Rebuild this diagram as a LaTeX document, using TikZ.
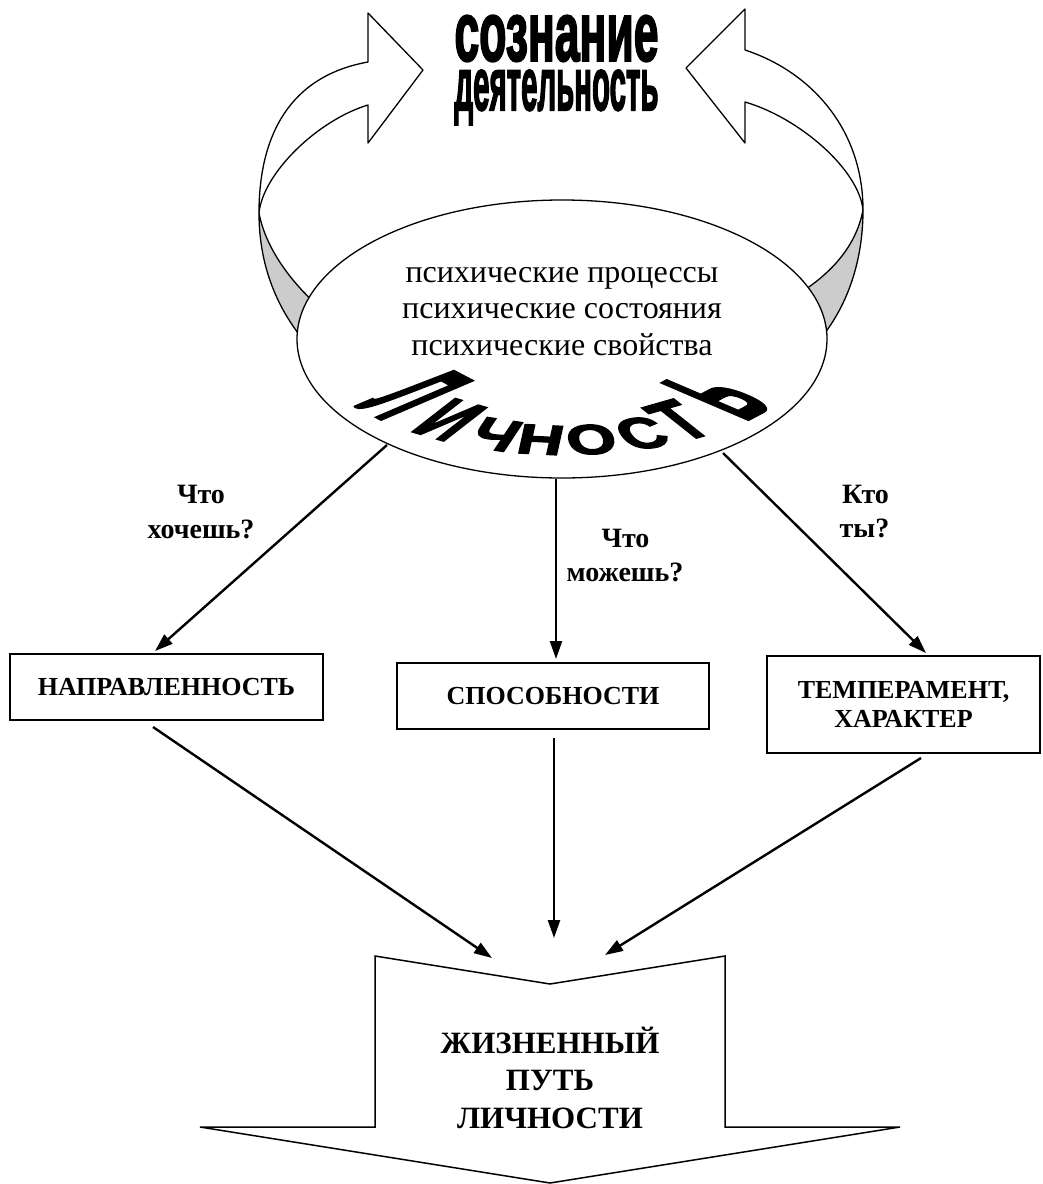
\documentclass[tikz,border=0pt]{standalone}
\usepackage{fontspec}
\setmainfont{Liberation Serif}
\newfontfamily\wafont{Liberation Sans}[BoldFeatures={FakeBold=3}]
\usetikzlibrary{arrows.meta,shapes.geometric}
\begin{document}
\begin{tikzpicture}[x=1pt,y=-1pt,
  conn/.style={line width=2.4pt,-{Triangle[length=18pt,width=12pt]}},
  bandline/.style={line width=1.3pt,line join=round},
  boxst/.style={draw,line width=1.8pt,rectangle,inner sep=0pt,align=center,font=\fontsize{26}{29}\selectfont\bfseries},
  lbl/.style={inner sep=0pt,anchor=base,font=\fontsize{28}{34}\selectfont\bfseries},
  psyline/.style={inner sep=0pt,anchor=base,font=\fontsize{32}{36}\selectfont},
  lifeline/.style={inner sep=0pt,anchor=base,font=\fontsize{31}{37}\selectfont\bfseries},
  lich/.style={inner sep=0pt,anchor=base,transform shape,font=\wafont\bfseries\fontsize{88}{88}\selectfont},
]
\useasboundingbox (0,0) rectangle (1043,1184);
\fill[white] (0,0) rectangle (1043,1184);

% ---------- left curved arrow ----------
\coordinate (LA) at (368,62);
\coordinate (LB) at (368,105);
\coordinate (LT) at (259,213);
\draw[bandline,fill=white] (LT) .. controls (259,135) and (290,76) .. (LA)
  -- (368,13) -- (423,70) -- (368,143) -- (LB)
  .. controls (318,120) and (263,173) .. (LT) -- cycle;
\draw[bandline,fill=black!20] (LT) .. controls (265,245) and (287,278) .. (318,306)
  -- (312,350) .. controls (280,315) and (259,270) .. (LT) -- cycle;

% ---------- right curved arrow ----------
\coordinate (RA) at (745,50);
\coordinate (RB) at (745,102);
\coordinate (RT) at (863,210);
\draw[bandline,fill=white] (RT) .. controls (863,130) and (812,72) .. (RA)
  -- (745,9) -- (686,68) -- (745,143) -- (RB)
  .. controls (800,118) and (859,170) .. (RT) -- cycle;
\draw[bandline,fill=black!20] (RT) .. controls (857,242) and (836,270) .. (800,293)
  -- (815,345) .. controls (845,312) and (863,265) .. (RT) -- cycle;

% ---------- title ----------
\node[inner sep=0pt] (soz) at (556.5,38.5) {\resizebox{204pt}{45pt}{\wafont\bfseries сознание}};
\node[inner sep=0pt,anchor=base] (deyat) at (556.5,110) {\resizebox{204pt}{40pt}{\wafont\bfseries деятельность}};

% ---------- ellipse ----------
\node[draw,ellipse,fill=white,line width=1.3pt,minimum width=530pt,minimum height=278pt,inner sep=0pt] (psy) at (562,339) {};
\node[psyline] (p1) at (562,282) {психические процессы};
\node[psyline] (p2) at (562,318.5) {психические состояния};
\node[psyline] (p3) at (562,355) {психические свойства};

\begin{scope}[shift={(565,330)},yscale=0.476]
  \foreach \ch/\ang/\ys [count=\i] in {Л/-48/2.0, И/-31.5/1.35, Ч/-17.5/1.05, Н/-6/1, О/6.5/1, С/19.5/1.05, Т/31/1.35, Ь/48/1.9}{
    \node[lich,rotate=\ang,xscale=0.72,yscale=\ys] (lich\i) at ({262*sin(\ang)},{262*cos(\ang)}) {\ch};
  }
\end{scope}

% ---------- boxes ----------
\node[boxst,minimum width=313pt,minimum height=66pt] (napr) at (166.5,687) {НАПРАВЛЕННОСТЬ};
\node[boxst,minimum width=312pt,minimum height=66pt] (spos) at (553,696) {СПОСОБНОСТИ};
\node[boxst,minimum width=273pt,minimum height=97pt] (temp) at (903.5,704.5) {ТЕМПЕРАМЕНТ,\\ХАРАКТЕР};

% ---------- connectors ----------
\coordinate (s1) at (387,445);
\coordinate (e1) at (155,651);
\coordinate (s2) at (556,479);
\coordinate (e2) at (556,659);
\coordinate (s3) at (723,453);
\coordinate (e3) at (926,653);
\draw[conn] (s1) -- (e1);
\draw[conn] (s2) -- (e2);
\draw[conn] (s3) -- (e3);

\coordinate (b1) at (153,727);
\coordinate (c1) at (492,958);
\coordinate (b2) at (554,738);
\coordinate (c2) at (554,938);
\coordinate (b3) at (921,758);
\coordinate (c3) at (605,955);
\draw[conn] (b1) -- (c1);
\draw[conn] (b2) -- (c2);
\draw[conn] (b3) -- (c3);

% ---------- labels ----------
\node[lbl] (q1a) at (201,503) {Что};
\node[lbl] (q1b) at (201,538) {хочешь?};
\node[lbl] (q2a) at (625.5,547) {Что};
\node[lbl] (q2b) at (625,581) {можешь?};
\node[lbl] (q3a) at (865.5,503) {Кто};
\node[lbl] (q3b) at (864.5,537) {ты?};

% ---------- big down arrow ----------
\draw[line width=1.5pt,fill=white] (375,956) -- (550,984) -- (725,956) -- (725,1127)
  -- (900,1127) -- (550,1183) -- (200,1127) -- (375,1127) -- cycle;
\node[lifeline] (l1) at (550,1053) {ЖИЗНЕННЫЙ};
\node[lifeline] (l2) at (550,1090.5) {ПУТЬ};
\node[lifeline] (l3) at (550,1128) {ЛИЧНОСТИ};
\end{tikzpicture}
\end{document}
